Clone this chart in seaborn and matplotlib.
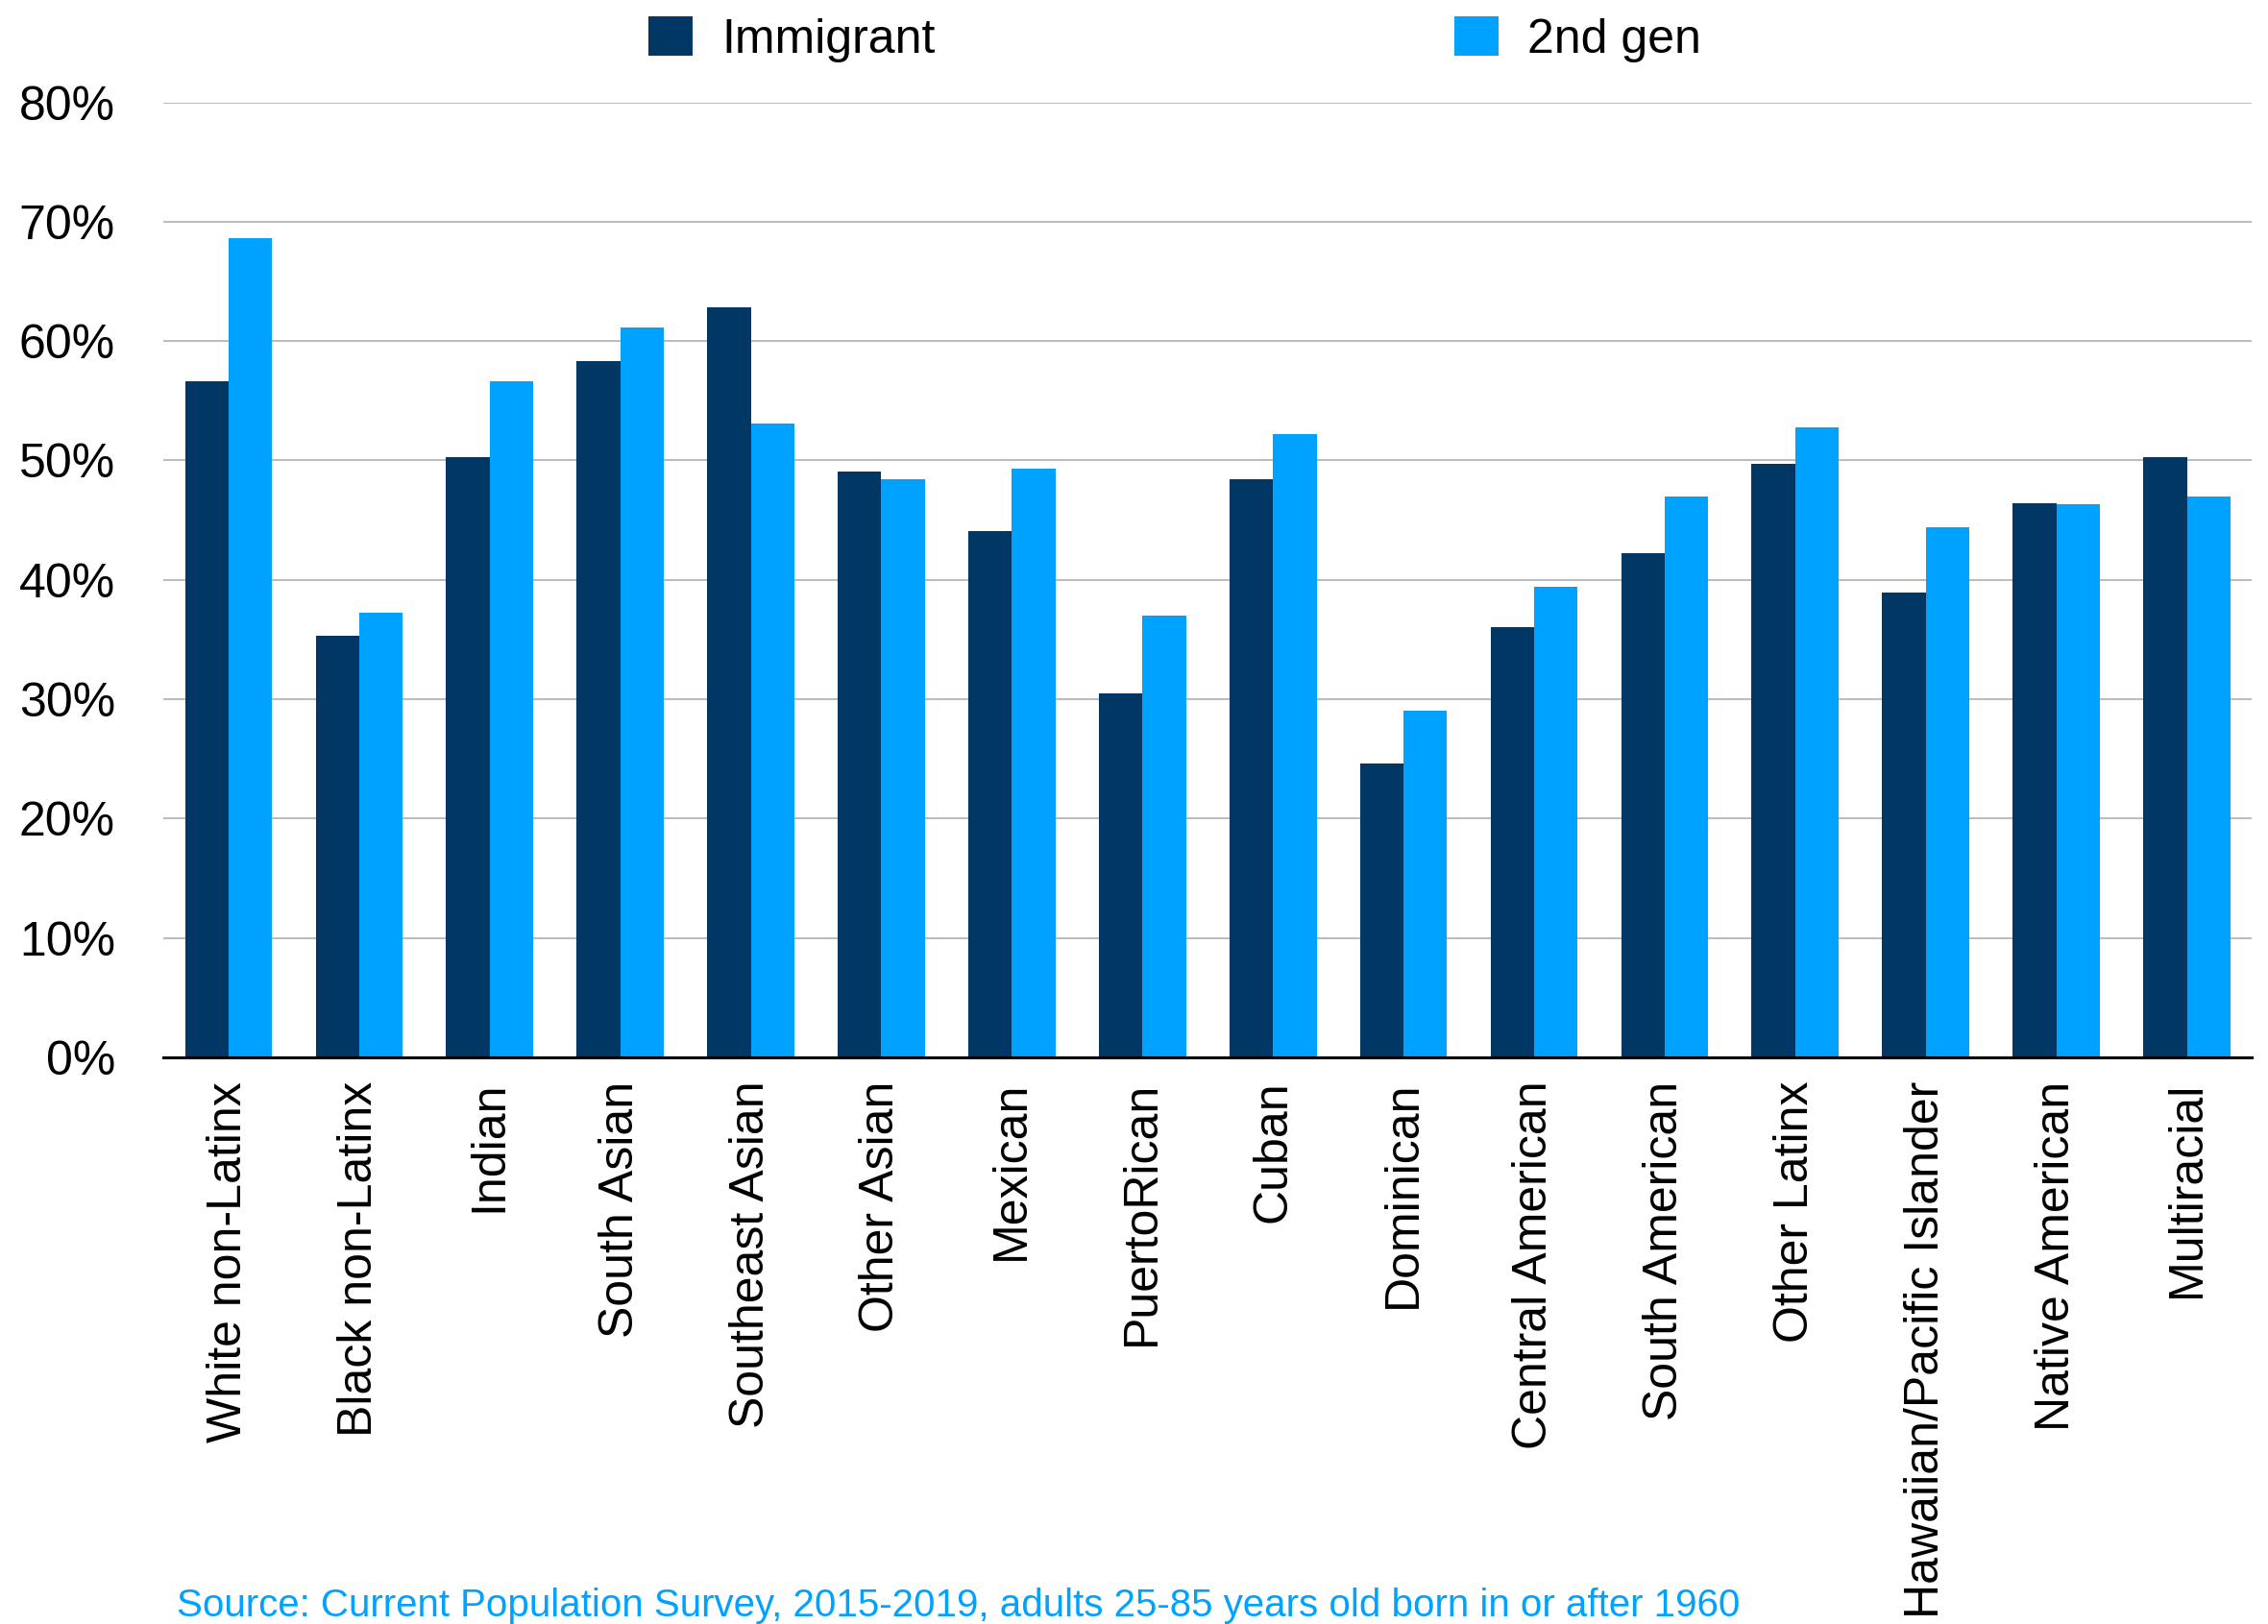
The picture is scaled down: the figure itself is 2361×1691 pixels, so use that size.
import pandas as pd
import seaborn as sns
import matplotlib.pyplot as plt
from matplotlib.ticker import FuncFormatter

# --- data (in %) ---
groups = ["White non-Latinx", "Black non-Latinx", "Indian", "South Asian",
          "Southeast Asian", "Other Asian", "Mexican", "PuertoRican", "Cuban",
          "Dominican", "Central American", "South American", "Other Latinx",
          "Hawaiian/Pacific Islander", "Native American", "Multiracial"]
immigrant = [56.6, 35.3, 50.3, 58.3, 62.8, 49.1, 44.1, 30.5, 48.4,
             24.6, 36.0, 42.2, 49.7, 38.9, 46.4, 50.3]
second_gen = [68.6, 37.2, 56.6, 61.1, 53.1, 48.4, 49.3, 37.0, 52.2,
              29.0, 39.4, 47.0, 52.8, 44.4, 46.3, 47.0]
series = ["Immigrant", "2nd gen"]
colors = ["#003764", "#00A2FF"]
y_ticks = [0, 10, 20, 30, 40, 50, 60, 70, 80]
source_note = "Source: Current Population Survey, 2015-2019, adults 25-85 years old born in or after 1960"

df = pd.DataFrame({
    "group": groups * 2,
    "gen": [series[0]] * len(groups) + [series[1]] * len(groups),
    "value": immigrant + second_gen,
})

sns.set_style("white")
plt.rcParams["font.family"] = ["Liberation Sans", "DejaVu Sans"]
plt.rcParams["text.color"] = "black"
plt.rcParams["xtick.color"] = "black"
plt.rcParams["ytick.color"] = "black"

fig = plt.figure(figsize=(23.61, 16.91), dpi=100)
ax = fig.add_axes([0.072, 0.349, 0.921, 0.588])

sns.barplot(data=df, x="group", y="value", hue="gen", order=groups,
            hue_order=series, palette=colors, saturation=1, width=0.667,
            linewidth=0, ax=ax)

handles, labels = ax.get_legend_handles_labels()
if ax.get_legend() is not None:
    ax.get_legend().remove()

ax.set_ylim(0, 80)
ax.set_xlim(-0.5, len(groups) - 0.5)
ax.set_yticks(y_ticks)
ax.yaxis.set_major_formatter(FuncFormatter(lambda v, p: f"{v:.0f}%"))
ax.grid(axis="y", color="#BDBDBD", linewidth=1.5)
ax.set_axisbelow(True)
for s in ["left", "right", "top"]:
    ax.spines[s].set_visible(False)
ax.spines["bottom"].set_color("black")
ax.spines["bottom"].set_linewidth(2.2)
ax.spines["bottom"].set_zorder(5)

ax.set_xlabel("")
ax.set_ylabel("")
ax.tick_params(axis="y", length=0, pad=36, labelsize=36, labelcolor="black")
ax.tick_params(axis="x", length=0, pad=18, labelsize=36, rotation=90,
               labelcolor="black")
for lbl in ax.get_xticklabels():
    lbl.set_va("top")

fig.legend(handles, labels, loc="center", bbox_to_anchor=(0.518, 0.976),
           ncol=2, frameon=False, fontsize=36, handlelength=0.92,
           handleheight=0.9, handletextpad=0.6, columnspacing=10.8,
           borderpad=0, labelcolor="black")

fig.text(0.078, 0.011, source_note, color="#00A2FF", fontsize=29,
         ha="left", va="center")

fig.savefig("out.png", dpi=100)
plt.close(fig)
